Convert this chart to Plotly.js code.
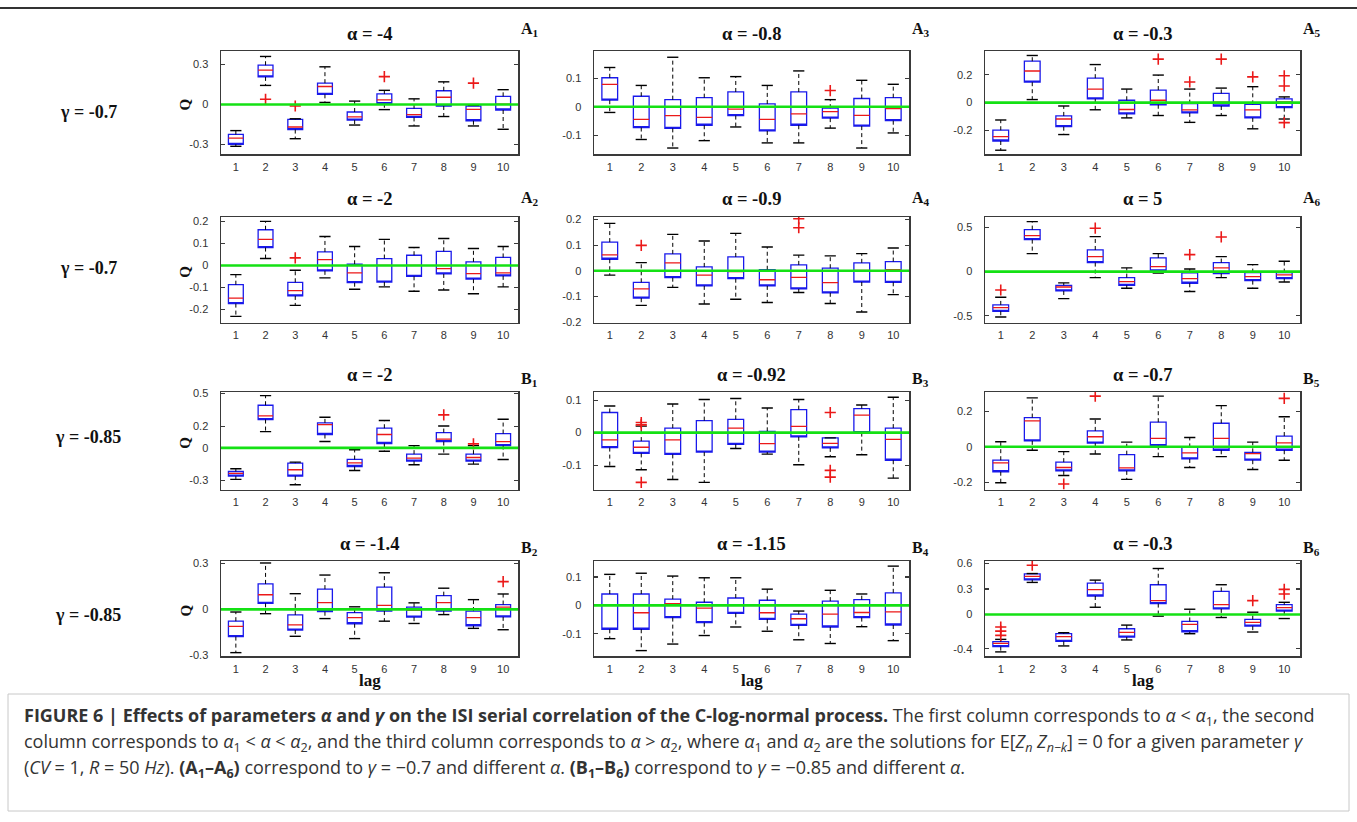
<!DOCTYPE html>
<html>
<head>
<meta charset="utf-8">
<script src="https://cdn.plot.ly/plotly-3.0.1.min.js"></script>
<style>
  html, body { margin: 0; padding: 0; background: #ffffff; }
  #fig { width: 1357px; height: 822px; }
</style>
</head>
<body>
<div id="fig"></div>
<script>
// Lags on the horizontal axis of every panel
const lags = [1, 2, 3, 4, 5, 6, 7, 8, 9, 10];

// ---- gamma = -0.7 ----
// A1, alpha = -4
const A1_lo  = [-0.315, 0.143, -0.258, 0.015, -0.155, -0.039, -0.162, -0.091, -0.162, -0.187];
const A1_q1  = [-0.300, 0.207, -0.189, 0.076, -0.118, 0.005, -0.098, -0.012, -0.123, -0.042];
const A1_med = [-0.253, 0.258, -0.170, 0.135, -0.093, 0.034, -0.076, 0.054, -0.037, 0.003];
const A1_q3  = [-0.226, 0.295, -0.113, 0.160, -0.057, 0.079, -0.030, 0.103, -0.012, 0.061];
const A1_hi  = [-0.197, 0.361, -0.108, 0.283, 0.025, 0.106, 0.042, 0.170, -0.007, 0.111];
const A1_outLag = [2, 3, 6, 9];
const A1_outQ   = [0.039, -0.012, 0.209, 0.160];

// A2, alpha = -2
const A2_lo  = [-0.231, 0.032, -0.181, -0.056, -0.108, -0.097, -0.117, -0.111, -0.128, -0.097];
const A2_q1  = [-0.173, 0.082, -0.138, -0.024, -0.078, -0.075, -0.049, -0.038, -0.062, -0.047];
const A2_med = [-0.148, 0.119, -0.114, 0.027, -0.033, 0.001, 0.001, -0.014, -0.037, -0.033];
const A2_q3  = [-0.087, 0.163, -0.076, 0.062, 0.006, 0.032, 0.047, 0.065, 0.017, 0.037];
const A2_hi  = [-0.041, 0.201, -0.021, 0.132, 0.087, 0.119, 0.082, 0.123, 0.078, 0.087];
const A2_outLag = [3];
const A2_outQ   = [0.035];

// A3, alpha = -0.8
const A3_lo  = [-0.020, -0.115, -0.145, -0.119, -0.071, -0.127, -0.127, -0.075, -0.145, -0.092];
const A3_q1  = [0.023, -0.073, -0.076, -0.065, -0.031, -0.085, -0.065, -0.040, -0.068, -0.049];
const A3_med = [0.079, -0.044, -0.031, -0.037, -0.008, -0.044, -0.025, -0.017, -0.030, -0.006];
const A3_q3  = [0.102, 0.037, 0.025, 0.032, 0.052, 0.010, 0.052, -0.005, 0.029, 0.032];
const A3_hi  = [0.138, 0.075, 0.174, 0.102, 0.106, 0.075, 0.126, 0.025, 0.093, 0.079];
const A3_outLag = [8];
const A3_outQ   = [0.057];

// A4, alpha = -0.9
const A4_lo  = [-0.017, -0.135, -0.065, -0.130, -0.111, -0.124, -0.085, -0.128, -0.161, -0.093];
const A4_q1  = [0.045, -0.107, -0.027, -0.059, -0.031, -0.059, -0.071, -0.086, -0.044, -0.045];
const A4_med = [0.062, -0.071, 0.031, -0.017, -0.003, -0.035, -0.026, -0.046, 0.001, 0.004];
const A4_q3  = [0.112, -0.045, 0.066, 0.015, 0.054, 0.004, 0.023, 0.010, 0.031, 0.036];
const A4_hi  = [0.185, 0.032, 0.142, 0.116, 0.146, 0.093, 0.061, 0.058, 0.067, 0.089];
const A4_outLag = [2, 7, 7];
const A4_outQ   = [0.099, 0.203, 0.168];

// A5, alpha = -0.3
const A5_lo  = [-0.340, 0.022, -0.228, -0.051, -0.109, -0.092, -0.141, -0.092, -0.187, -0.117];
const A5_q1  = [-0.274, 0.146, -0.172, 0.027, -0.080, -0.015, -0.073, -0.024, -0.109, -0.036];
const A5_med = [-0.243, 0.226, -0.117, 0.097, -0.049, 0.017, -0.051, 0.004, -0.051, 0.005];
const A5_q3  = [-0.197, 0.296, -0.095, 0.175, 0.017, 0.090, -0.007, 0.066, -0.012, 0.027];
const A5_hi  = [-0.124, 0.337, -0.024, 0.272, 0.097, 0.197, 0.097, 0.104, 0.114, 0.041];
const A5_outLag = [6, 7, 8, 9, 10, 10, 10];
const A5_outQ   = [0.311, 0.148, 0.311, 0.184, 0.192, 0.119, -0.143];

// A6, alpha = 5
const A6_lo  = [-0.513, 0.204, -0.306, -0.068, -0.189, -0.015, -0.226, -0.068, -0.189, -0.117];
const A6_q1  = [-0.449, 0.362, -0.219, 0.102, -0.155, 0.008, -0.132, -0.023, -0.102, -0.079];
const A6_med = [-0.408, 0.408, -0.174, 0.170, -0.113, 0.057, -0.079, 0.042, -0.057, -0.038];
const A6_q3  = [-0.377, 0.475, -0.155, 0.245, -0.068, 0.155, -0.015, 0.102, -0.011, -0.011];
const A6_hi  = [-0.291, 0.566, -0.128, 0.396, 0.042, 0.204, 0.030, 0.170, 0.079, 0.117];
const A6_outLag = [1, 4, 7, 8];
const A6_outQ   = [-0.208, 0.491, 0.192, 0.392];

// ---- gamma = -0.85 ----
// B1, alpha = -2
const B1_lo  = [-0.291, 0.150, -0.340, 0.058, -0.209, -0.031, -0.156, -0.058, -0.150, -0.107];
const B1_q1  = [-0.261, 0.261, -0.261, 0.123, -0.172, 0.040, -0.123, 0.058, -0.123, 0.021];
const B1_med = [-0.236, 0.294, -0.202, 0.215, -0.138, 0.123, -0.095, 0.080, -0.089, 0.058];
const B1_q3  = [-0.218, 0.393, -0.141, 0.230, -0.107, 0.181, -0.058, 0.141, -0.058, 0.132];
const B1_hi  = [-0.193, 0.482, -0.132, 0.282, -0.018, 0.252, 0.021, 0.202, 0.021, 0.264];
const B1_outLag = [8, 9];
const B1_outQ   = [0.304, 0.037];

// B2, alpha = -1.4
const B2_lo  = [-0.283, -0.028, -0.176, -0.060, -0.191, -0.077, -0.092, -0.034, -0.124, -0.133];
const B2_q1  = [-0.178, 0.040, -0.135, -0.015, -0.094, -0.011, -0.051, -0.011, -0.107, -0.049];
const B2_med = [-0.111, 0.096, -0.101, 0.045, -0.054, 0.026, -0.006, 0.045, -0.054, 0.015];
const B2_q3  = [-0.077, 0.167, -0.036, 0.133, -0.021, 0.146, 0.015, 0.090, -0.011, 0.032];
const B2_hi  = [-0.017, 0.304, 0.103, 0.225, 0.017, 0.240, 0.043, 0.139, 0.064, 0.101];
const B2_outLag = [10];
const B2_outQ   = [0.182];

// B3, alpha = -0.92
const B3_lo  = [-0.104, -0.114, -0.144, -0.153, -0.049, -0.066, -0.099, -0.074, -0.068, -0.140];
const B3_q1  = [-0.046, -0.064, -0.067, -0.060, -0.036, -0.060, -0.013, -0.047, 0.000, -0.085];
const B3_med = [-0.022, -0.045, -0.022, 0.001, 0.014, -0.034, 0.019, -0.033, 0.054, -0.021];
const B3_q3  = [0.062, -0.026, 0.014, 0.037, 0.041, 0.004, 0.071, -0.016, 0.074, 0.014];
const B3_hi  = [0.082, 0.020, 0.088, 0.102, 0.105, 0.076, 0.102, -0.016, 0.085, 0.109];
const B3_outLag = [2, 2, 2, 8, 8, 8];
const B3_outQ   = [0.031, 0.024, -0.153, 0.062, -0.116, -0.137];

// B4, alpha = -1.15
const B4_lo  = [-0.117, -0.159, -0.136, -0.106, -0.076, -0.091, -0.121, -0.134, -0.075, -0.124];
const B4_q1  = [-0.084, -0.084, -0.043, -0.061, -0.028, -0.049, -0.070, -0.076, -0.043, -0.069];
const B4_med = [0.000, -0.026, 0.006, -0.010, 0.001, -0.026, -0.047, -0.031, -0.025, -0.023];
const B4_q3  = [0.040, 0.040, 0.022, 0.011, 0.026, 0.018, -0.031, 0.015, 0.020, 0.044];
const B4_hi  = [0.109, 0.113, 0.103, 0.097, 0.097, 0.057, -0.020, 0.053, 0.040, 0.138];
const B4_outLag = [];
const B4_outQ   = [];

// B5, alpha = -0.7
const B5_lo  = [-0.203, -0.020, -0.162, -0.041, -0.184, -0.056, -0.117, -0.056, -0.128, -0.076];
const B5_q1  = [-0.141, 0.033, -0.136, 0.020, -0.136, 0.006, -0.069, -0.020, -0.076, -0.020];
const B5_med = [-0.091, 0.145, -0.117, 0.056, -0.119, 0.047, -0.035, 0.047, -0.039, 0.022];
const B5_q3  = [-0.076, 0.164, -0.087, 0.089, -0.045, 0.138, -0.004, 0.132, -0.032, 0.060];
const B5_hi  = [0.028, 0.275, -0.028, 0.156, 0.026, 0.285, 0.052, 0.231, 0.026, 0.169];
const B5_outLag = [3, 4, 10];
const B5_outQ   = [-0.210, 0.285, 0.272];

// B6, alpha = -0.3
const B6_lo  = [-0.438, 0.376, -0.368, 0.085, -0.298, -0.019, -0.225, -0.035, -0.205, -0.047];
const B6_q1  = [-0.376, 0.407, -0.314, 0.217, -0.264, 0.128, -0.202, 0.066, -0.136, 0.039];
const B6_med = [-0.337, 0.446, -0.260, 0.291, -0.209, 0.163, -0.116, 0.116, -0.093, 0.081];
const B6_q3  = [-0.318, 0.477, -0.225, 0.368, -0.167, 0.349, -0.081, 0.271, -0.058, 0.116];
const B6_hi  = [-0.291, 0.480, -0.213, 0.403, -0.124, 0.539, 0.062, 0.349, 0.027, 0.143];
const B6_outLag = [1, 1, 1, 2, 9, 10, 10];
const B6_outQ   = [-0.147, -0.194, -0.244, 0.578, 0.163, 0.295, 0.240];

// Y tick values per panel
const A1_ticks = [-0.3, 0, 0.3];
const A2_ticks = [-0.2, -0.1, 0, 0.1, 0.2];
const A3_ticks = [-0.1, 0, 0.1];
const A4_ticks = [-0.2, -0.1, 0, 0.1, 0.2];
const A5_ticks = [-0.2, 0, 0.2];
const A6_ticks = [-0.5, 0, 0.5];
const B1_ticks = [-0.3, 0, 0.2, 0.5];
const B2_ticks = [-0.3, 0, 0.3];
const B3_ticks = [-0.1, 0, 0.1];
const B4_ticks = [-0.1, 0, 0.1];
const B5_ticks = [-0.2, 0, 0.2];
const B6_ticks = [-0.4, 0, 0.3, 0.6];

// Row labels
const gammaLabels = ['γ = -0.7', 'γ = -0.7', 'γ = -0.85', 'γ = -0.85'];

// ---------------- drawing ----------------
const W = 1357, H = 822;
const px = v => v / W;
const py = v => 1 - v / H;

const colX = [[221, 518], [594, 909], [985, 1300]];
const rowY = [[51, 154], [217, 322.5], [392, 489.5], [561, 656]];
const titleY = [34, 199, 375, 544];
const tagY = [30, 198, 379, 548];
const gammaY = [112, 268, 437, 615];

const panels = [
  {tag: 'A', n: '1', alpha: '-4',    row: 0, col: 0, lo: A1_lo, q1: A1_q1, med: A1_med, q3: A1_q3, hi: A1_hi, oL: A1_outLag, oQ: A1_outQ, ticks: A1_ticks, range: [-0.373, 0.402]},
  {tag: 'A', n: '3', alpha: '-0.8',  row: 0, col: 1, lo: A3_lo, q1: A3_q1, med: A3_med, q3: A3_q3, hi: A3_hi, oL: A3_outLag, oQ: A3_outQ, ticks: A3_ticks, range: [-0.166, 0.196]},
  {tag: 'A', n: '5', alpha: '-0.3',  row: 0, col: 2, lo: A5_lo, q1: A5_q1, med: A5_med, q3: A5_q3, hi: A5_hi, oL: A5_outLag, oQ: A5_outQ, ticks: A5_ticks, range: [-0.367, 0.369]},
  {tag: 'A', n: '2', alpha: '-2',    row: 1, col: 0, lo: A2_lo, q1: A2_q1, med: A2_med, q3: A2_q3, hi: A2_hi, oL: A2_outLag, oQ: A2_outQ, ticks: A2_ticks, range: [-0.259, 0.221]},
  {tag: 'A', n: '4', alpha: '-0.9',  row: 1, col: 1, lo: A4_lo, q1: A4_q1, med: A4_med, q3: A4_q3, hi: A4_hi, oL: A4_outLag, oQ: A4_outQ, ticks: A4_ticks, range: [-0.202, 0.210]},
  {tag: 'A', n: '6', alpha: '5',     row: 1, col: 2, lo: A6_lo, q1: A6_q1, med: A6_med, q3: A6_q3, hi: A6_hi, oL: A6_outLag, oQ: A6_outQ, ticks: A6_ticks, range: [-0.576, 0.618]},
  {tag: 'B', n: '1', alpha: '-2',    row: 2, col: 0, lo: B1_lo, q1: B1_q1, med: B1_med, q3: B1_q3, hi: B1_hi, oL: B1_outLag, oQ: B1_outQ, ticks: B1_ticks, range: [-0.384, 0.515]},
  {tag: 'B', n: '3', alpha: '-0.92', row: 2, col: 1, lo: B3_lo, q1: B3_q1, med: B3_med, q3: B3_q3, hi: B3_hi, oL: B3_outLag, oQ: B3_outQ, ticks: B3_ticks, range: [-0.175, 0.125]},
  {tag: 'B', n: '5', alpha: '-0.7',  row: 2, col: 2, lo: B5_lo, q1: B5_q1, med: B5_med, q3: B5_q3, hi: B5_hi, oL: B5_outLag, oQ: B5_outQ, ticks: B5_ticks, range: [-0.241, 0.308]},
  {tag: 'B', n: '2', alpha: '-1.4',  row: 3, col: 0, lo: B2_lo, q1: B2_q1, med: B2_med, q3: B2_q3, hi: B2_hi, oL: B2_outLag, oQ: B2_outQ, ticks: B2_ticks, range: [-0.305, 0.317]},
  {tag: 'B', n: '4', alpha: '-1.15', row: 3, col: 1, lo: B4_lo, q1: B4_q1, med: B4_med, q3: B4_q3, hi: B4_hi, oL: B4_outLag, oQ: B4_outQ, ticks: B4_ticks, range: [-0.178, 0.156]},
  {tag: 'B', n: '6', alpha: '-0.3',  row: 3, col: 2, lo: B6_lo, q1: B6_q1, med: B6_med, q3: B6_q3, hi: B6_hi, oL: B6_outLag, oQ: B6_outQ, ticks: B6_ticks, range: [-0.486, 0.627]}
];

const BLUE = 'rgb(25,25,235)';
const RED = 'rgb(235,25,25)';
const GREEN = 'rgb(20,225,20)';
const AXIS = '#3a3a3a';
const serif = 'Liberation Serif, Times New Roman, serif';
const sans = 'Liberation Sans, Arial, sans-serif';
const capFont = 'Open Sans, Liberation Sans, sans-serif';

const traces = [];
const layout = {
  width: W, height: H,
  margin: {l: 0, r: 0, t: 0, b: 0},
  paper_bgcolor: '#ffffff', plot_bgcolor: '#ffffff',
  showlegend: false,
  boxmode: 'overlay',
  annotations: [],
  shapes: []
};

panels.forEach((p, i) => {
  const k = i + 1;
  const xa = 'x' + k, ya = 'y' + k;
  const xs = k === 1 ? '' : String(k);

  // whiskers: dashed segments from the box edges out to the whisker ends
  const wx = [], wy = [];
  lags.forEach((l, j) => {
    wx.push(l, l, null, l, l, null);
    wy.push(p.q3[j], p.hi[j], null, p.q1[j], p.lo[j], null);
  });
  traces.push({type: 'scatter', mode: 'lines', x: wx, y: wy, xaxis: xa, yaxis: ya,
    line: {color: '#000000', width: 1, dash: '4px,3px'}, hoverinfo: 'skip'});

  // whisker caps
  traces.push({type: 'scatter', mode: 'markers', x: lags.concat(lags), y: p.hi.concat(p.lo),
    xaxis: xa, yaxis: ya, hoverinfo: 'skip',
    marker: {symbol: 'line-ew', size: 8, color: '#000000', line: {color: '#000000', width: 1.4}}});

  // boxes spanning q1..q3 (their own median stroke sits on the lower edge)
  traces.push({type: 'box', x: lags, q1: p.q1, median: p.q1,
    q3: p.q3, lowerfence: p.q1, upperfence: p.q3, width: 0.5, boxpoints: false,
    xaxis: xa, yaxis: ya, line: {color: BLUE, width: 1.3}, fillcolor: 'rgba(0,0,0,0)',
    hoverinfo: 'skip', whiskerwidth: 0});

  // medians in red
  traces.push({type: 'box', x: lags, q1: p.med, median: p.med, q3: p.med,
    lowerfence: p.med, upperfence: p.med, width: 0.5, boxpoints: false,
    xaxis: xa, yaxis: ya, line: {color: RED, width: 1.3}, fillcolor: 'rgba(0,0,0,0)',
    hoverinfo: 'skip', whiskerwidth: 0});

  // outliers
  if (p.oL.length) {
    traces.push({type: 'scatter', mode: 'markers', x: p.oL, y: p.oQ, xaxis: xa, yaxis: ya,
      hoverinfo: 'skip',
      marker: {symbol: 'cross-thin', size: 8, color: RED, line: {color: RED, width: 1.6}}});
  }

  const cx = colX[p.col], ry = rowY[p.row];
  layout['xaxis' + xs] = {
    domain: [px(cx[0]), px(cx[1])], anchor: 'y' + k, range: [0.5, 10.5],
    tickmode: 'array', tickvals: lags, ticktext: lags.map(String), ticks: '',
    ticklabelstandoff: 2,
    showline: true, mirror: true, linecolor: AXIS, linewidth: 1.5,
    showgrid: false, zeroline: false, fixedrange: true,
    tickfont: {family: sans, size: 11, color: '#333'}
  };
  layout['yaxis' + xs] = {
    domain: [py(ry[1]), py(ry[0])], anchor: 'x' + k, range: p.range,
    tickmode: 'array', tickvals: p.ticks, ticktext: p.ticks.map(String),
    ticks: 'inside', ticklen: 4, tickwidth: 1.2, tickcolor: AXIS,
    ticklabelstandoff: 9,
    showline: true, mirror: 'ticks', linecolor: AXIS, linewidth: 1.5,
    showgrid: false, zeroline: false, fixedrange: true,
    tickfont: {family: sans, size: 11, color: '#333'}
  };

  // zero reference line
  layout.shapes.push({type: 'line', layer: 'above', xref: xa + ' domain', x0: 0, x1: 1,
    yref: ya, y0: 0, y1: 0, line: {color: GREEN, width: 2.6}});

  // panel title and tag
  layout.annotations.push({xref: 'paper', yref: 'paper', x: px((cx[0] + cx[1]) / 2), y: py(titleY[p.row]),
    xanchor: 'center', yanchor: 'middle', showarrow: false,
    text: '<b>α = ' + p.alpha + '</b>', font: {family: serif, size: 18.5, color: '#111'}});
  layout.annotations.push({xref: 'paper', yref: 'paper', x: px(cx[1] + 1), y: py(tagY[p.row]),
    xanchor: 'left', yanchor: 'middle', showarrow: false,
    text: '<b>' + p.tag + '<sub>' + p.n + '</sub></b>', font: {family: serif, size: 16, color: '#111'}});

  if (p.col === 0) {
    layout.annotations.push({xref: 'paper', yref: 'paper', x: px(185), y: py((ry[0] + ry[1]) / 2 + 2),
      xanchor: 'center', yanchor: 'middle', showarrow: false, textangle: -90,
      text: '<b>Q</b>', font: {family: serif, size: 15, color: '#111'}});
  }
  if (p.row === 3) {
    layout.annotations.push({xref: 'paper', yref: 'paper', x: px((cx[0] + cx[1]) / 2), y: py(680),
      xanchor: 'center', yanchor: 'middle', showarrow: false,
      text: '<b>lag</b>', font: {family: serif, size: 17, color: '#111'}});
  }
});

gammaLabels.forEach((g, r) => {
  layout.annotations.push({xref: 'paper', yref: 'paper', x: px(88), y: py(gammaY[r]),
    xanchor: 'center', yanchor: 'middle', showarrow: false,
    text: '<b>' + g + '</b>', font: {family: serif, size: 18, color: '#111'}});
});

// rule across the top
layout.shapes.push({type: 'line', xref: 'paper', yref: 'paper', x0: 0, x1: 1,
  y0: py(8), y1: py(8), line: {color: '#333', width: 2}});

// caption frame
layout.shapes.push({type: 'rect', xref: 'paper', yref: 'paper', x0: px(8), x1: px(1349),
  y0: py(811), y1: py(694), line: {color: '#c8c8c8', width: 1}});

const capLines = [
  '<b>FIGURE 6 | Effects of parameters <i>α</i> and <i>γ</i> on the ISI serial correlation of the C-log-normal process.</b> The first column corresponds to <i>α</i> < <i>α</i><sub>1</sub>, the second',
  'column corresponds to <i>α</i><sub>1</sub> < <i>α</i> < <i>α</i><sub>2</sub>, and the third column corresponds to <i>α</i> > <i>α</i><sub>2</sub>, where <i>α</i><sub>1</sub> and <i>α</i><sub>2</sub> are the solutions for E[<i>Z<sub>n</sub> Z<sub>n−k</sub></i>] = 0 for a given parameter <i>γ</i>',
  '(<i>CV</i> = 1, <i>R</i> = 50 <i>Hz</i>). <b>(A<sub>1</sub>–A<sub>6</sub>)</b> correspond to <i>γ</i> = −0.7 and different <i>α</i>. <b>(B<sub>1</sub>–B<sub>6</sub>)</b> correspond to <i>γ</i> = −0.85 and different <i>α</i>.'
];
const capY = [716, 742, 768];
capLines.forEach((t, r) => {
  layout.annotations.push({xref: 'paper', yref: 'paper', x: px(22), y: py(capY[r]),
    xanchor: 'left', yanchor: 'middle', showarrow: false, align: 'left',
    text: t, font: {family: capFont, size: 18, color: '#333'}});
});

Plotly.newPlot('fig', traces, layout, {staticPlot: true, displayModeBar: false});
</script>
</body>
</html>
